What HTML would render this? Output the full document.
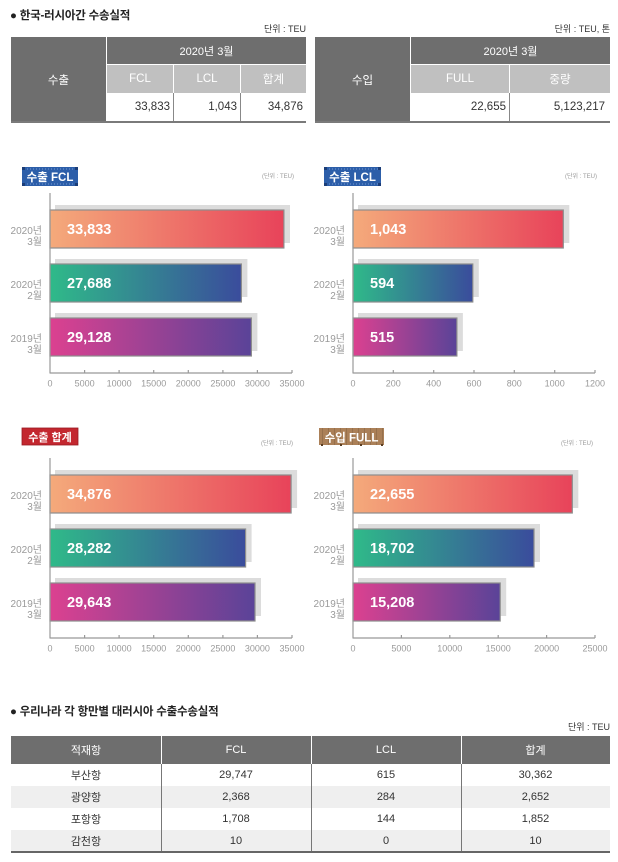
<!DOCTYPE html>
<html><head><meta charset="utf-8">
<style>
*{margin:0;padding:0;box-sizing:border-box}
body{width:618px;height:862px;background:#fff;position:relative;overflow:hidden;font-family:"Liberation Sans","Noto Sans CJK KR",sans-serif;}
.a{position:absolute}
.c{position:absolute;display:flex;align-items:center;justify-content:center;}
.r{position:absolute;display:flex;align-items:center;justify-content:flex-end;}
.t{font-weight:bold;font-size:11.5px;color:#222;white-space:nowrap;letter-spacing:-0.2px}
.u{font-size:9px;color:#333;white-space:nowrap}
.dk{background:#6e6e6e;color:#fff;font-size:11px}
.lt{background:#c0c0c0;color:#fff;font-size:11.5px}
.num{font-size:11.5px;color:#333}
.bt{font-size:11px;color:#333}
</style></head><body>

<!-- Top section -->
<div class="a t" style="left:10px;top:8px;line-height:16px">● 한국-러시아간 수송실적</div>
<div class="a u" style="right:312px;top:23px;line-height:12px">단위 : TEU</div>
<div class="a u" style="right:8px;top:23px;line-height:12px">단위 : TEU, 톤</div>

<!-- left table -->
<div class="c dk" style="left:11px;top:37px;width:95px;height:85px;font-size:11.5px">수출</div>
<div class="c dk" style="left:107px;top:37px;width:199px;height:27px">2020년 3월</div>
<div class="c lt" style="left:107px;top:65px;width:66px;height:28px">FCL</div>
<div class="c lt" style="left:174px;top:65px;width:66px;height:28px">LCL</div>
<div class="c lt" style="left:241px;top:65px;width:65px;height:28px">합계</div>
<div class="r num" style="left:107px;top:93px;width:66px;height:28px;padding-right:3px">33,833</div>
<div class="r num" style="left:174px;top:93px;width:66px;height:28px;padding-right:3px">1,043</div>
<div class="r num" style="left:241px;top:93px;width:65px;height:28px;padding-right:3px">34,876</div>
<div class="a" style="left:173px;top:93px;width:1px;height:28px;background:#888"></div>
<div class="a" style="left:240px;top:93px;width:1px;height:28px;background:#888"></div>
<div class="a" style="left:11px;top:121px;width:295px;height:1.5px;background:#7a7a7a"></div>

<!-- right table -->
<div class="c dk" style="left:315px;top:37px;width:95px;height:85px;font-size:11.5px">수입</div>
<div class="c dk" style="left:411px;top:37px;width:199px;height:27px">2020년 3월</div>
<div class="c lt" style="left:411px;top:65px;width:98px;height:28px">FULL</div>
<div class="c lt" style="left:510px;top:65px;width:100px;height:28px">중량</div>
<div class="r num" style="left:411px;top:93px;width:98px;height:28px;padding-right:3px">22,655</div>
<div class="r num" style="left:510px;top:93px;width:100px;height:28px;padding-right:5px">5,123,217</div>
<div class="a" style="left:509px;top:93px;width:1px;height:28px;background:#888"></div>
<div class="a" style="left:315px;top:121px;width:295px;height:1.5px;background:#7a7a7a"></div>

<!-- Charts -->
<svg class="a" style="left:0;top:0" width="618" height="862" font-family="Liberation Sans, Noto Sans CJK KR, sans-serif">
<defs>
<linearGradient id="g1" x1="0" x2="1" y1="0" y2="0"><stop offset="0" stop-color="#f4aa7b"/><stop offset="1" stop-color="#e8435a"/></linearGradient>
<linearGradient id="g2" x1="0" x2="1" y1="0" y2="0"><stop offset="0" stop-color="#2fba89"/><stop offset="1" stop-color="#3a4c9c"/></linearGradient>
<linearGradient id="g3" x1="0" x2="1" y1="0" y2="0"><stop offset="0" stop-color="#dc4190"/><stop offset="1" stop-color="#5a4398"/></linearGradient>
<pattern id="wood" width="6" height="20" patternUnits="userSpaceOnUse"><rect width="6" height="20" fill="#ab8058"/><rect x="4" width="1" height="20" fill="#96704c"/></pattern>
</defs>

<!-- Labels -->
<g>
<rect x="22" y="167" width="56" height="19" fill="#2c5ea9"/>
<line x1="24" y1="169" x2="76" y2="169" stroke="#8fb0e0" stroke-width="0.8" stroke-dasharray="1,2"/>
<line x1="24" y1="184" x2="76" y2="184" stroke="#8fb0e0" stroke-width="0.8" stroke-dasharray="1,2"/>
<rect x="22" y="167" width="3" height="3" fill="#1b3d78"/><rect x="75" y="167" width="3" height="3" fill="#1b3d78"/>
<rect x="22" y="183" width="3" height="3" fill="#1b3d78"/><rect x="75" y="183" width="3" height="3" fill="#1b3d78"/>
<text x="50" y="181" text-anchor="middle" fill="#fff" font-size="11.5" font-weight="bold">수출 FCL</text>
</g>
<g>
<rect x="324" y="167" width="57" height="19" fill="#2c5ea9"/>
<line x1="326" y1="169" x2="379" y2="169" stroke="#8fb0e0" stroke-width="0.8" stroke-dasharray="1,2"/>
<line x1="326" y1="184" x2="379" y2="184" stroke="#8fb0e0" stroke-width="0.8" stroke-dasharray="1,2"/>
<rect x="324" y="167" width="3" height="3" fill="#1b3d78"/><rect x="378" y="167" width="3" height="3" fill="#1b3d78"/>
<rect x="324" y="183" width="3" height="3" fill="#1b3d78"/><rect x="378" y="183" width="3" height="3" fill="#1b3d78"/>
<text x="352.5" y="181" text-anchor="middle" fill="#fff" font-size="11.5" font-weight="bold">수출 LCL</text>
</g>
<g>
<rect x="22" y="428" width="56" height="17" fill="#c3272f"/>
<rect x="22" y="428" width="56" height="17" fill="none" stroke="#9a1a21" stroke-width="0.8"/>
<text x="50" y="441" text-anchor="middle" fill="#fff" font-size="11" font-weight="bold">수출 합계</text>
</g>
<g>
<rect x="319" y="428" width="65" height="17" fill="url(#wood)"/>
<rect x="321" y="444" width="2" height="2" fill="#5a3d22"/><rect x="340" y="444" width="2" height="2" fill="#5a3d22"/><rect x="360" y="444" width="2" height="2" fill="#5a3d22"/><rect x="381" y="444" width="2" height="2" fill="#5a3d22"/>
<text x="351.5" y="441.5" text-anchor="middle" fill="#fff" font-size="11.5" font-weight="bold">수입 FULL</text>
</g>

<!-- unit labels -->
<text x="294" y="178" text-anchor="end" fill="#999" font-size="6">(단위 : TEU)</text>
<text x="597" y="178" text-anchor="end" fill="#999" font-size="6">(단위 : TEU)</text>
<text x="293" y="445" text-anchor="end" fill="#999" font-size="6">(단위 : TEU)</text>
<text x="593" y="445" text-anchor="end" fill="#999" font-size="6">(단위 : TEU)</text>

<!-- Chart A -->
<g>
<rect x="55" y="205" width="235" height="38" fill="#dcdcdc"/>
<rect x="55" y="259" width="192.4" height="38" fill="#dcdcdc"/>
<rect x="55" y="313" width="202.4" height="38" fill="#dcdcdc"/>
<rect x="50" y="210" width="233.9" height="38" fill="url(#g1)" stroke="#8d8d8d" stroke-width="1.2"/>
<rect x="50" y="264" width="191.4" height="38" fill="url(#g2)" stroke="#8d8d8d" stroke-width="1.2"/>
<rect x="50" y="318" width="201.4" height="38" fill="url(#g3)" stroke="#8d8d8d" stroke-width="1.2"/>
<g fill="#fff" font-size="14.5" font-weight="bold">
<text x="67" y="234">33,833</text><text x="67" y="288">27,688</text><text x="67" y="342">29,128</text>
</g>
<g fill="#9a9a9a" font-size="10" text-anchor="end">
<text x="42" y="234">2020년</text><text x="42" y="245">3월</text>
<text x="42" y="288">2020년</text><text x="42" y="299">2월</text>
<text x="42" y="342">2019년</text><text x="42" y="353">3월</text>
</g>
<g stroke="#999" stroke-width="1.2">
<line x1="50" y1="193" x2="50" y2="373.5"/>
<line x1="50" y1="373" x2="292" y2="373"/>
<line x1="84.6" y1="373" x2="84.6" y2="370"/><line x1="119.1" y1="373" x2="119.1" y2="370"/><line x1="153.7" y1="373" x2="153.7" y2="370"/><line x1="188.3" y1="373" x2="188.3" y2="370"/><line x1="222.9" y1="373" x2="222.9" y2="370"/><line x1="257.4" y1="373" x2="257.4" y2="370"/><line x1="292" y1="373" x2="292" y2="370"/>
</g>
<g fill="#9a9a9a" font-size="9" text-anchor="middle">
<text x="50" y="386.5">0</text><text x="84.6" y="386.5">5000</text><text x="119.1" y="386.5">10000</text><text x="153.7" y="386.5">15000</text><text x="188.3" y="386.5">20000</text><text x="222.9" y="386.5">25000</text><text x="257.4" y="386.5">30000</text><text x="292" y="386.5">35000</text>
</g>
</g>

<!-- Chart B -->
<g>
<rect x="358" y="205" width="211.3" height="38" fill="#dcdcdc"/>
<rect x="358" y="259" width="120.8" height="38" fill="#dcdcdc"/>
<rect x="358" y="313" width="104.9" height="38" fill="#dcdcdc"/>
<rect x="353" y="210" width="210.3" height="38" fill="url(#g1)" stroke="#8d8d8d" stroke-width="1.2"/>
<rect x="353" y="264" width="119.8" height="38" fill="url(#g2)" stroke="#8d8d8d" stroke-width="1.2"/>
<rect x="353" y="318" width="103.9" height="38" fill="url(#g3)" stroke="#8d8d8d" stroke-width="1.2"/>
<g fill="#fff" font-size="14.5" font-weight="bold">
<text x="370" y="234">1,043</text><text x="370" y="288">594</text><text x="370" y="342">515</text>
</g>
<g fill="#9a9a9a" font-size="10" text-anchor="end">
<text x="345" y="234">2020년</text><text x="345" y="245">3월</text>
<text x="345" y="288">2020년</text><text x="345" y="299">2월</text>
<text x="345" y="342">2019년</text><text x="345" y="353">3월</text>
</g>
<g stroke="#999" stroke-width="1.2">
<line x1="353" y1="193" x2="353" y2="373.5"/>
<line x1="353" y1="373" x2="595" y2="373"/>
<line x1="393.3" y1="373" x2="393.3" y2="370"/><line x1="433.7" y1="373" x2="433.7" y2="370"/><line x1="474" y1="373" x2="474" y2="370"/><line x1="514.3" y1="373" x2="514.3" y2="370"/><line x1="554.7" y1="373" x2="554.7" y2="370"/><line x1="595" y1="373" x2="595" y2="370"/>
</g>
<g fill="#9a9a9a" font-size="9" text-anchor="middle">
<text x="353" y="386.5">0</text><text x="393.3" y="386.5">200</text><text x="433.7" y="386.5">400</text><text x="474" y="386.5">600</text><text x="514.3" y="386.5">800</text><text x="554.7" y="386.5">1000</text><text x="595" y="386.5">1200</text>
</g>
</g>

<!-- Chart C -->
<g transform="translate(0,265)">
<rect x="55" y="205" width="242.1" height="38" fill="#dcdcdc"/>
<rect x="55" y="259" width="196.6" height="38" fill="#dcdcdc"/>
<rect x="55" y="313" width="206" height="38" fill="#dcdcdc"/>
<rect x="50" y="210" width="241.1" height="38" fill="url(#g1)" stroke="#8d8d8d" stroke-width="1.2"/>
<rect x="50" y="264" width="195.6" height="38" fill="url(#g2)" stroke="#8d8d8d" stroke-width="1.2"/>
<rect x="50" y="318" width="205" height="38" fill="url(#g3)" stroke="#8d8d8d" stroke-width="1.2"/>
<g fill="#fff" font-size="14.5" font-weight="bold">
<text x="67" y="234">34,876</text><text x="67" y="288">28,282</text><text x="67" y="342">29,643</text>
</g>
<g fill="#9a9a9a" font-size="10" text-anchor="end">
<text x="42" y="234">2020년</text><text x="42" y="245">3월</text>
<text x="42" y="288">2020년</text><text x="42" y="299">2월</text>
<text x="42" y="342">2019년</text><text x="42" y="353">3월</text>
</g>
<g stroke="#999" stroke-width="1.2">
<line x1="50" y1="193" x2="50" y2="373.5"/>
<line x1="50" y1="373" x2="292" y2="373"/>
<line x1="84.6" y1="373" x2="84.6" y2="370"/><line x1="119.1" y1="373" x2="119.1" y2="370"/><line x1="153.7" y1="373" x2="153.7" y2="370"/><line x1="188.3" y1="373" x2="188.3" y2="370"/><line x1="222.9" y1="373" x2="222.9" y2="370"/><line x1="257.4" y1="373" x2="257.4" y2="370"/><line x1="292" y1="373" x2="292" y2="370"/>
</g>
<g fill="#9a9a9a" font-size="9" text-anchor="middle">
<text x="50" y="386.5">0</text><text x="84.6" y="386.5">5000</text><text x="119.1" y="386.5">10000</text><text x="153.7" y="386.5">15000</text><text x="188.3" y="386.5">20000</text><text x="222.9" y="386.5">25000</text><text x="257.4" y="386.5">30000</text><text x="292" y="386.5">35000</text>
</g>
</g>

<!-- Chart D -->
<g transform="translate(0,265)">
<rect x="358" y="205" width="220.3" height="38" fill="#dcdcdc"/>
<rect x="358" y="259" width="182" height="38" fill="#dcdcdc"/>
<rect x="358" y="313" width="148.2" height="38" fill="#dcdcdc"/>
<rect x="353" y="210" width="219.3" height="38" fill="url(#g1)" stroke="#8d8d8d" stroke-width="1.2"/>
<rect x="353" y="264" width="181" height="38" fill="url(#g2)" stroke="#8d8d8d" stroke-width="1.2"/>
<rect x="353" y="318" width="147.2" height="38" fill="url(#g3)" stroke="#8d8d8d" stroke-width="1.2"/>
<g fill="#fff" font-size="14.5" font-weight="bold">
<text x="370" y="234">22,655</text><text x="370" y="288">18,702</text><text x="370" y="342">15,208</text>
</g>
<g fill="#9a9a9a" font-size="10" text-anchor="end">
<text x="345" y="234">2020년</text><text x="345" y="245">3월</text>
<text x="345" y="288">2020년</text><text x="345" y="299">2월</text>
<text x="345" y="342">2019년</text><text x="345" y="353">3월</text>
</g>
<g stroke="#999" stroke-width="1.2">
<line x1="353" y1="193" x2="353" y2="373.5"/>
<line x1="353" y1="373" x2="595" y2="373"/>
<line x1="401.4" y1="373" x2="401.4" y2="370"/><line x1="449.8" y1="373" x2="449.8" y2="370"/><line x1="498.2" y1="373" x2="498.2" y2="370"/><line x1="546.6" y1="373" x2="546.6" y2="370"/><line x1="595" y1="373" x2="595" y2="370"/>
</g>
<g fill="#9a9a9a" font-size="9" text-anchor="middle">
<text x="353" y="386.5">0</text><text x="401.4" y="386.5">5000</text><text x="449.8" y="386.5">10000</text><text x="498.2" y="386.5">15000</text><text x="546.6" y="386.5">20000</text><text x="595" y="386.5">25000</text>
</g>
</g>
</svg>

<!-- Bottom section -->
<div class="a t" style="left:10px;top:704px;line-height:16px">● 우리나라 각 항만별 대러시아 수출수송실적</div>
<div class="a u" style="right:8px;top:721px;line-height:12px">단위 : TEU</div>

<div class="a" style="left:11px;top:736px;width:599px;height:28px;background:#6e6e6e"></div>
<div class="a" style="left:11px;top:786px;width:599px;height:22px;background:#efefef"></div>
<div class="a" style="left:11px;top:830px;width:599px;height:22px;background:#efefef"></div>
<div class="a" style="left:161px;top:736px;width:1px;height:28px;background:#fff"></div>
<div class="a" style="left:311px;top:736px;width:1px;height:28px;background:#fff"></div>
<div class="a" style="left:461px;top:736px;width:1px;height:28px;background:#fff"></div>
<div class="a" style="left:161px;top:764px;width:1px;height:88px;background:#777"></div>
<div class="a" style="left:311px;top:764px;width:1px;height:88px;background:#777"></div>
<div class="a" style="left:461px;top:764px;width:1px;height:88px;background:#777"></div>
<div class="a" style="left:11px;top:851px;width:599px;height:1.5px;background:#666"></div>

<div class="c" style="left:11px;top:736px;width:150px;height:28px;color:#fff;font-size:11px">적재항</div>
<div class="c" style="left:161px;top:736px;width:150px;height:28px;color:#fff;font-size:11px">FCL</div>
<div class="c" style="left:311px;top:736px;width:150px;height:28px;color:#fff;font-size:11px">LCL</div>
<div class="c" style="left:461px;top:736px;width:149px;height:28px;color:#fff;font-size:11px">합계</div>

<div class="c bt" style="left:11px;top:764px;width:150px;height:22px">부산항</div>
<div class="c bt" style="left:161px;top:764px;width:150px;height:22px">29,747</div>
<div class="c bt" style="left:311px;top:764px;width:150px;height:22px">615</div>
<div class="c bt" style="left:461px;top:764px;width:149px;height:22px">30,362</div>

<div class="c bt" style="left:11px;top:786px;width:150px;height:22px">광양항</div>
<div class="c bt" style="left:161px;top:786px;width:150px;height:22px">2,368</div>
<div class="c bt" style="left:311px;top:786px;width:150px;height:22px">284</div>
<div class="c bt" style="left:461px;top:786px;width:149px;height:22px">2,652</div>

<div class="c bt" style="left:11px;top:808px;width:150px;height:22px">포항항</div>
<div class="c bt" style="left:161px;top:808px;width:150px;height:22px">1,708</div>
<div class="c bt" style="left:311px;top:808px;width:150px;height:22px">144</div>
<div class="c bt" style="left:461px;top:808px;width:149px;height:22px">1,852</div>

<div class="c bt" style="left:11px;top:830px;width:150px;height:22px">감천항</div>
<div class="c bt" style="left:161px;top:830px;width:150px;height:22px">10</div>
<div class="c bt" style="left:311px;top:830px;width:150px;height:22px">0</div>
<div class="c bt" style="left:461px;top:830px;width:149px;height:22px">10</div>

</body></html>
